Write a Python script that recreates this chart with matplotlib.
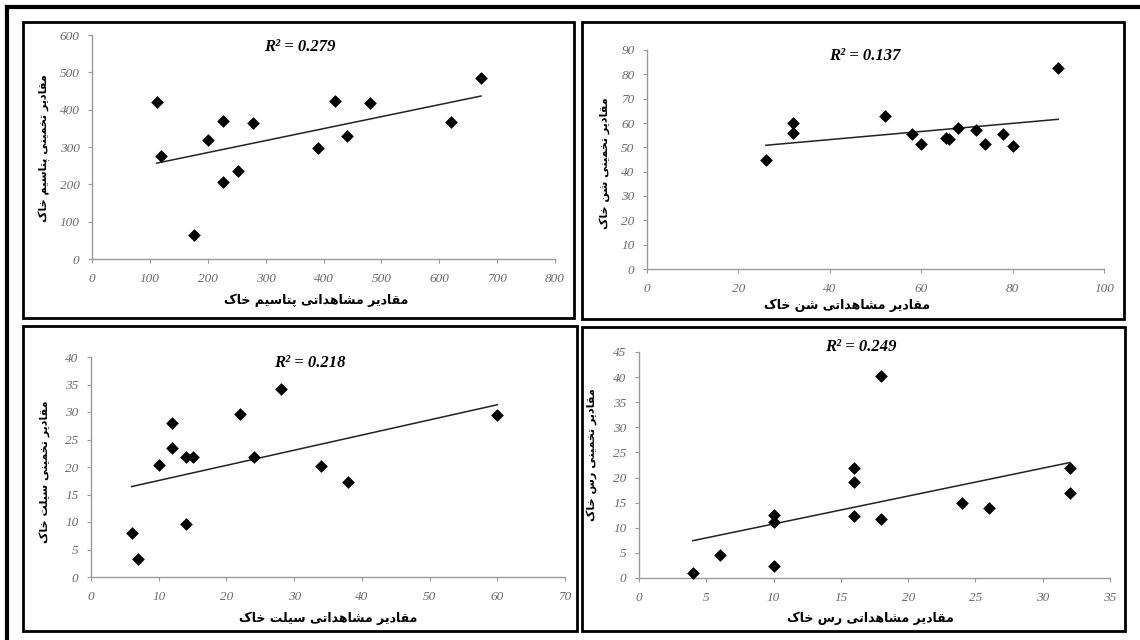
import numpy as np
import matplotlib.pyplot as plt
from matplotlib.patches import Rectangle

W, H = 1140, 640

# potassium (پتاسیم)
k_obs = [112, 120, 177, 200, 226, 226, 253, 278, 391, 420, 440, 480, 621, 672]
k_est = [420, 277, 63, 320, 370, 205, 235, 363, 297, 422, 330, 418, 368, 485]

# sand (شن)
sand_obs = [26, 32, 32, 52, 58, 60, 65.5, 66, 68, 72, 74, 78, 80, 90]
sand_est = [45, 60, 56, 63, 55.5, 51.5, 54, 53.5, 58, 57, 51.5, 55.5, 50.5, 82.5]

# silt (سیلت)
silt_obs = [6, 7, 10, 12, 12, 14, 15, 14, 22, 24, 28, 34, 38, 60]
silt_est = [8, 3.3, 20.3, 28, 23.4, 21.8, 21.8, 9.6, 29.6, 21.8, 34.2, 20.2, 17.2, 29.4]

# clay (رس)
clay_obs = [4, 6, 10, 10, 10, 16, 16, 16, 18, 18, 24, 26, 32, 32]
clay_est = [1, 4.5, 12.6, 11.2, 2.4, 22, 19.2, 12.3, 40.3, 11.7, 15, 13.9, 22, 17]

r2_labels = ['R² = 0.279', 'R² = 0.137', 'R² = 0.218', 'R² = 0.249']
y_titles = ['مقادیر تخمینی پتاسیم خاک', 'مقادیر تخمینی شن خاک',
            'مقادیر تخمینی سیلت خاک', 'مقادیر تخمینی رس خاک']
x_titles = ['مقادیر مشاهداتی پتاسیم خاک', 'مقادیر مشاهداتی شن خاک',
            'مقادیر مشاهداتی سیلت خاک', 'مقادیر مشاهداتی رس خاک']

# matplotlib has no arabic shaping, so pick presentation forms by hand
# (isolated, final, initial, medial)
FORMS = {
    'ا': ('\uFE8D', '\uFE8E', None, None),
    'د': ('\uFEA9', '\uFEAA', None, None),
    'ر': ('\uFEAD', '\uFEAE', None, None),
    'م': ('\uFEE1', '\uFEE2', '\uFEE3', '\uFEE4'),
    'ق': ('\uFED5', '\uFED6', '\uFED7', '\uFED8'),
    'ت': ('\uFE95', '\uFE96', '\uFE97', '\uFE98'),
    'خ': ('\uFEA5', '\uFEA6', '\uFEA7', '\uFEA8'),
    'ن': ('\uFEE5', '\uFEE6', '\uFEE7', '\uFEE8'),
    'س': ('\uFEB1', '\uFEB2', '\uFEB3', '\uFEB4'),
    'ش': ('\uFEB5', '\uFEB6', '\uFEB7', '\uFEB8'),
    'ه': ('\uFEE9', '\uFEEA', '\uFEEB', '\uFEEC'),
    'ل': ('\uFEDD', '\uFEDE', '\uFEDF', '\uFEE0'),
    'پ': ('\uFB56', '\uFB57', '\uFB58', '\uFB59'),
    'ی': ('\uFBFC', '\uFBFD', '\uFBFE', '\uFBFF'),
    'ي': ('\uFBFC', '\uFBFD', '\uFBFE', '\uFBFF'),
    'ک': ('\uFB8E', '\uFB8F', '\uFB90', '\uFB91'),
    'ك': ('\uFB8E', '\uFB8F', '\uFB90', '\uFB91'),
}


def rtl(text):
    out = []
    for i, ch in enumerate(text):
        if ch not in FORMS:
            out.append(ch)
            continue
        prev = text[i - 1] if i > 0 else ' '
        nxt = text[i + 1] if i + 1 < len(text) else ' '
        iso, fin, ini, med = FORMS[ch]
        j_prev = prev in FORMS and FORMS[prev][2] is not None
        j_next = nxt in FORMS and ini is not None
        if j_prev and j_next:
            out.append(med)
        elif j_prev:
            out.append(fin)
        elif j_next:
            out.append(ini)
        else:
            out.append(iso)
    return ''.join(reversed(out))


panels = [
    # data, x range, y range, axis pixels (x0, x1, ytop, ybottom), ticks
    dict(x=k_obs, y=k_est, xmax=800, ymax=600, xs=100, ys=100,
         box=(23, 22, 574, 318), ax=(92, 555, 35, 259),
         r2=(300, 47), xl=(316, 300), yl=(44, 148)),
    dict(x=sand_obs, y=sand_est, xmax=100, ymax=90, xs=20, ys=10,
         box=(582, 22, 1124, 319), ax=(647, 1104, 50, 269),
         r2=(865, 56), xl=(847, 305), yl=(605, 163)),
    dict(x=silt_obs, y=silt_est, xmax=70, ymax=40, xs=10, ys=5,
         box=(23, 326, 577, 631), ax=(91, 565, 357, 577),
         r2=(310, 363), xl=(328, 618), yl=(45, 472)),
    dict(x=clay_obs, y=clay_est, xmax=35, ymax=45, xs=5, ys=5,
         box=(582, 327, 1125, 631), ax=(639, 1110, 352, 578),
         r2=(861, 347), xl=(870, 618), yl=(592, 455)),
]

fig = plt.figure(figsize=(W / 100, H / 100), dpi=100)

# frame layer in pixel coordinates
bg = fig.add_axes([0, 0, 1, 1])
bg.set_xlim(0, W)
bg.set_ylim(H, 0)
bg.axis('off')
bg.plot([7, W], [7, 7], color='black', lw=3)
bg.plot([7, 7], [7, H], color='black', lw=3)

tick_font = dict(family='Liberation Serif', style='italic', size=9.5, color='#6a6a6a')

for i, p in enumerate(panels):
    bx0, by0, bx1, by1 = p['box']
    bg.add_patch(Rectangle((bx0, by0), bx1 - bx0, by1 - by0, fill=False,
                           edgecolor='black', lw=2))

    x0, x1, yt, yb = p['ax']
    ax = fig.add_axes([x0 / W, 1 - yb / H, (x1 - x0) / W, (yb - yt) / H])
    ax.patch.set_alpha(0)
    ax.set_xlim(0, p['xmax'])
    ax.set_ylim(0, p['ymax'])
    ax.set_xticks(np.arange(0, p['xmax'] + 0.1, p['xs']))
    ax.set_yticks(np.arange(0, p['ymax'] + 0.1, p['ys']))
    for s in ['top', 'right']:
        ax.spines[s].set_visible(False)
    for s in ['left', 'bottom']:
        ax.spines[s].set_color('#9a9a9a')
        ax.spines[s].set_linewidth(1)
    ax.tick_params(direction='out', length=3, width=0.8, color='#9a9a9a')
    ax.tick_params(axis='x', pad=7)
    ax.tick_params(axis='y', pad=6)
    for lab in ax.get_xticklabels() + ax.get_yticklabels():
        lab.set(**tick_font)

    ax.scatter(p['x'], p['y'], marker='D', s=42, color='black', zorder=3,
               clip_on=False, linewidths=0)

    # linear trendline
    slope, icpt = np.polyfit(p['x'], p['y'], 1)
    xx = np.array([min(p['x']), max(p['x'])])
    ax.plot(xx, slope * xx + icpt, color='#222222', lw=1.1)

    bg.text(p['r2'][0], p['r2'][1], r2_labels[i], ha='center', va='center',
            family='Liberation Serif', style='italic', weight='bold', size=12)
    bg.text(p['xl'][0], p['xl'][1], rtl(x_titles[i]), ha='center', va='center',
            family='DejaVu Sans', weight='bold', size=9)
    bg.text(p['yl'][0], p['yl'][1], rtl(y_titles[i]), ha='center', va='center',
            rotation=90, family='DejaVu Sans', weight='bold', size=8)

fig.savefig('out.png', dpi=100)
